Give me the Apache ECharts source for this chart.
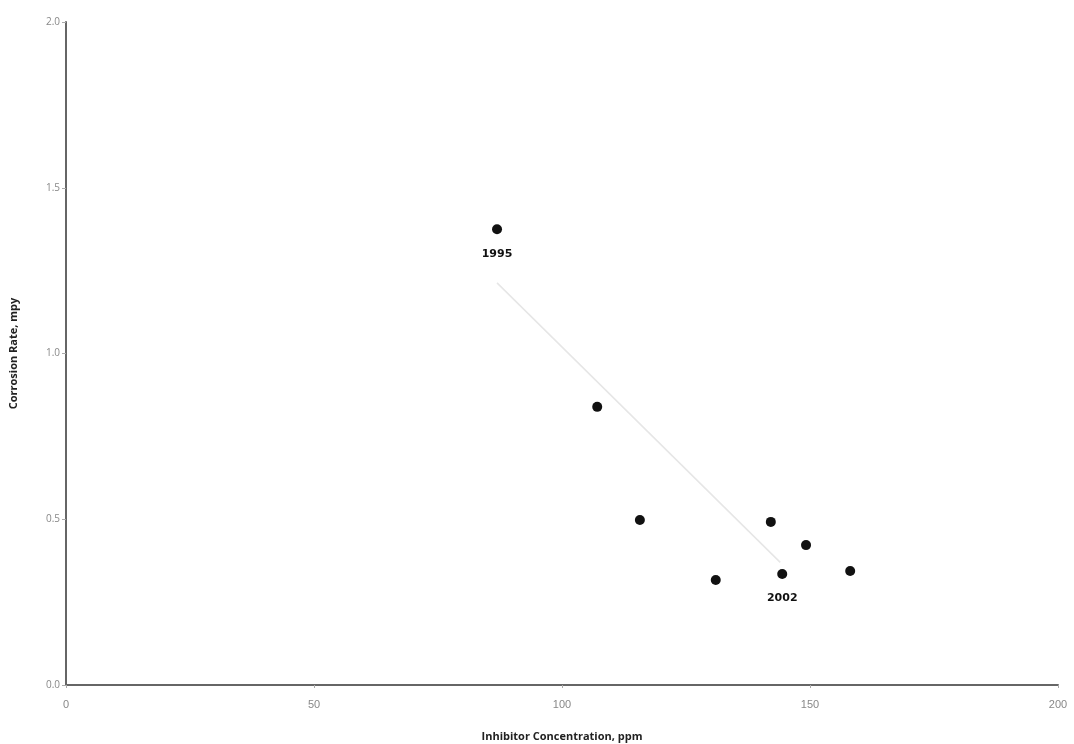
<!DOCTYPE html>
<html>
<head>
<meta charset="utf-8">
<script src="https://cdn.jsdelivr.net/npm/echarts@6/dist/echarts.min.js"></script>
<style>html,body{margin:0;padding:0;background:#fff;}#c{width:1074px;height:744px;}</style>
</head>
<body>
<div id="c"></div>
<script>
const xValues = [86.9, 107.1, 115.7, 131.0, 142.1, 144.4, 149.2, 158.1];
const yValues = [1.375, 0.839, 0.498, 0.317, 0.492, 0.335, 0.422, 0.344];
const pointLabels = ['1995', '', '', '', '', '2002', '', ''];
const trendX = [86.9, 144.0];
const trendY = [1.213, 0.37];
const xTicks = [0, 50, 100, 150, 200];
const yTicks = [0.0, 0.5, 1.0, 1.5, 2.0];

const chart = echarts.init(document.getElementById('c'), null, {renderer: 'canvas'});
chart.setOption({
  animation: false,
  backgroundColor: '#ffffff',
  grid: {left: 66, right: 16, top: 22, bottom: 59, containLabel: false, outerBoundsMode: 'none'},
  xAxis: {
    type: 'value', min: xTicks[0], max: xTicks[xTicks.length - 1], interval: 50,
    name: 'Inhibitor Concentration, ppm', nameLocation: 'middle', nameGap: 46,
    nameTextStyle: {color: '#222', fontSize: 11, fontWeight: 'bold', fontFamily: 'Open Sans'},
    axisLine: {lineStyle: {color: '#666', width: 2}},
    axisTick: {show: true, length: 3, lineStyle: {color: '#aaa'}},
    axisLabel: {color: '#888', fontSize: 11, margin: 14, fontFamily: 'Liberation Sans'},
    splitLine: {show: false}
  },
  yAxis: {
    type: 'value', min: yTicks[0], max: yTicks[yTicks.length - 1], interval: 0.5,
    name: 'Corrosion Rate, mpy', nameLocation: 'middle', nameGap: 47, nameRotate: 90,
    nameTextStyle: {color: '#222', fontSize: 11, fontWeight: 'bold', fontFamily: 'Open Sans'},
    axisLine: {lineStyle: {color: '#666', width: 2}},
    axisTick: {show: true, length: 4, lineStyle: {color: '#aaa'}},
    axisLabel: {color: '#888', fontSize: 10, margin: 6, fontFamily: 'Open Sans',
      formatter: v => v.toFixed(1)},
    splitLine: {show: false}
  },
  series: [
    {
      type: 'line',
      data: trendX.map((x, i) => [x, trendY[i]]),
      symbol: 'none',
      lineStyle: {color: '#e6e6e6', width: 1.5},
      silent: true,
      z: 1
    },
    {
      type: 'scatter',
      data: xValues.map((x, i) => ({value: [x, yValues[i]], label: {show: pointLabels[i] !== '', formatter: pointLabels[i]}})),
      symbol: 'circle',
      symbolSize: 10,
      itemStyle: {color: '#111', opacity: 1},
      label: {position: 'bottom', distance: 14, color: '#111', fontSize: 11, fontWeight: 'bold', fontFamily: 'DejaVu Sans'},
      z: 3
    }
  ]
});
</script>
</body>
</html>
